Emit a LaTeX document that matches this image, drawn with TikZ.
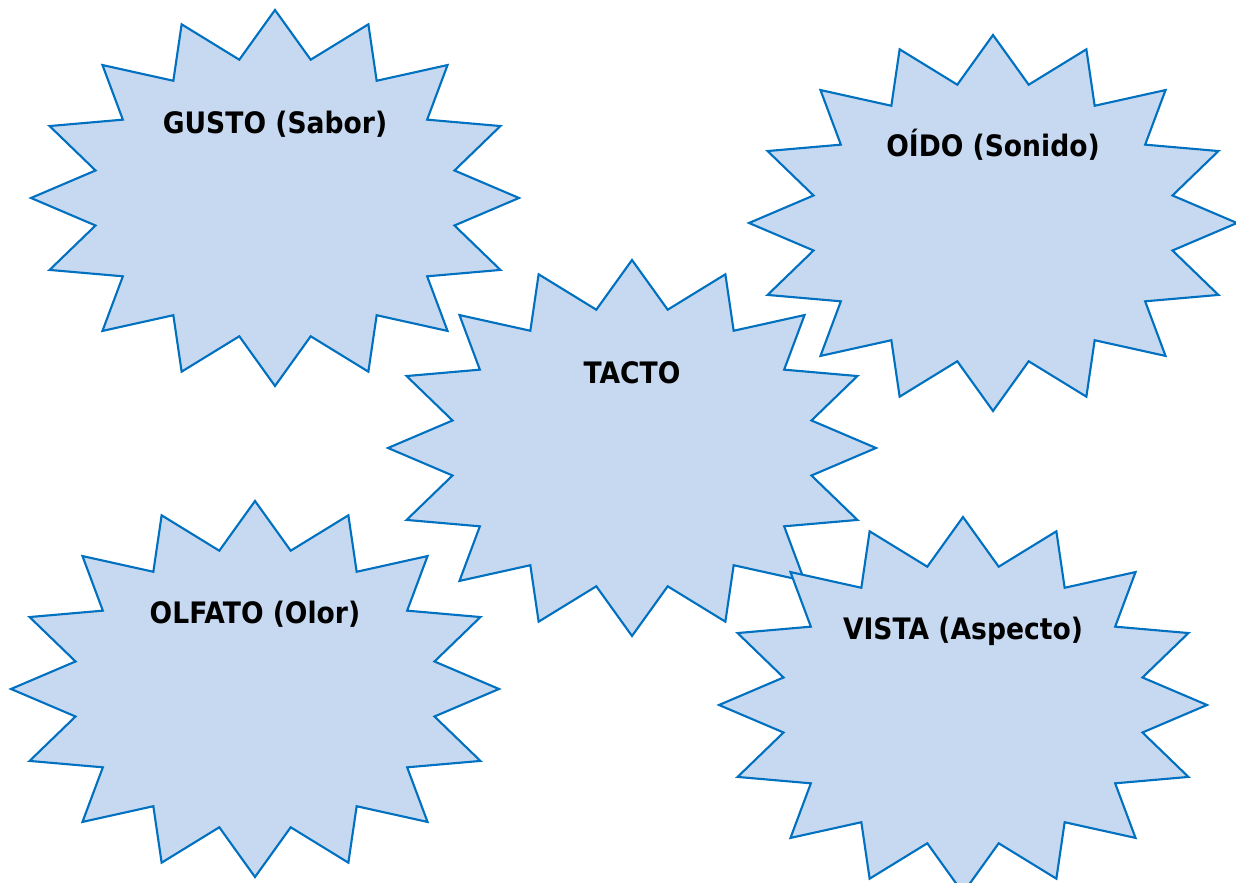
\documentclass[tikz,border=0pt]{standalone}
\usepackage{fontspec}
\setmainfont{DejaVu Sans}[FakeStretch=0.9]
\definecolor{starfill}{RGB}{198,217,240}
\definecolor{starline}{RGB}{0,112,192}
\tikzset{
  sense/.style={draw=starline, fill=starfill, line width=0.6pt, line join=miter},
  sensetext/.style={anchor=base, inner sep=0pt, font=\fontsize{8.4}{10}\selectfont\bfseries}
}
% 16-point star round (#1,#2)
\newcommand{\sensestar}[2]{%
  \begin{scope}[shift={(#1,#2)}]
    \draw [sense] (90:244 and 188)
      \foreach \k [evaluate=\k as \r using {1-0.25*mod(\k,2)}] in {1,...,31} {
        -- ({90+11.25*\k}:{244*\r} and {188*\r})
      } -- cycle;
  \end{scope}}

\begin{document}
\begin{tikzpicture}[x=0.01cm, y=-0.01cm]
\useasboundingbox (0,0) rectangle (1236,883);
% Star GUSTO
\sensestar{275}{198}
\node [sensetext] (gusto) at (275,134) {GUSTO (Sabor)};
% Star OIDO
\sensestar{993}{223}
\node [sensetext] (oido) at (993,157) {OÍDO (Sonido)};
% Star TACTO
\sensestar{632}{448}
\node [sensetext] (tacto) at (632,384) {TACTO};
% Star OLFATO
\sensestar{255}{689}
\node [sensetext] (olfato) at (255,624) {OLFATO (Olor)};
% Star VISTA (over TACTO)
\sensestar{963}{705}
\node [sensetext] (vista) at (963,640) {VISTA (Aspecto)};
\end{tikzpicture}
\end{document}
